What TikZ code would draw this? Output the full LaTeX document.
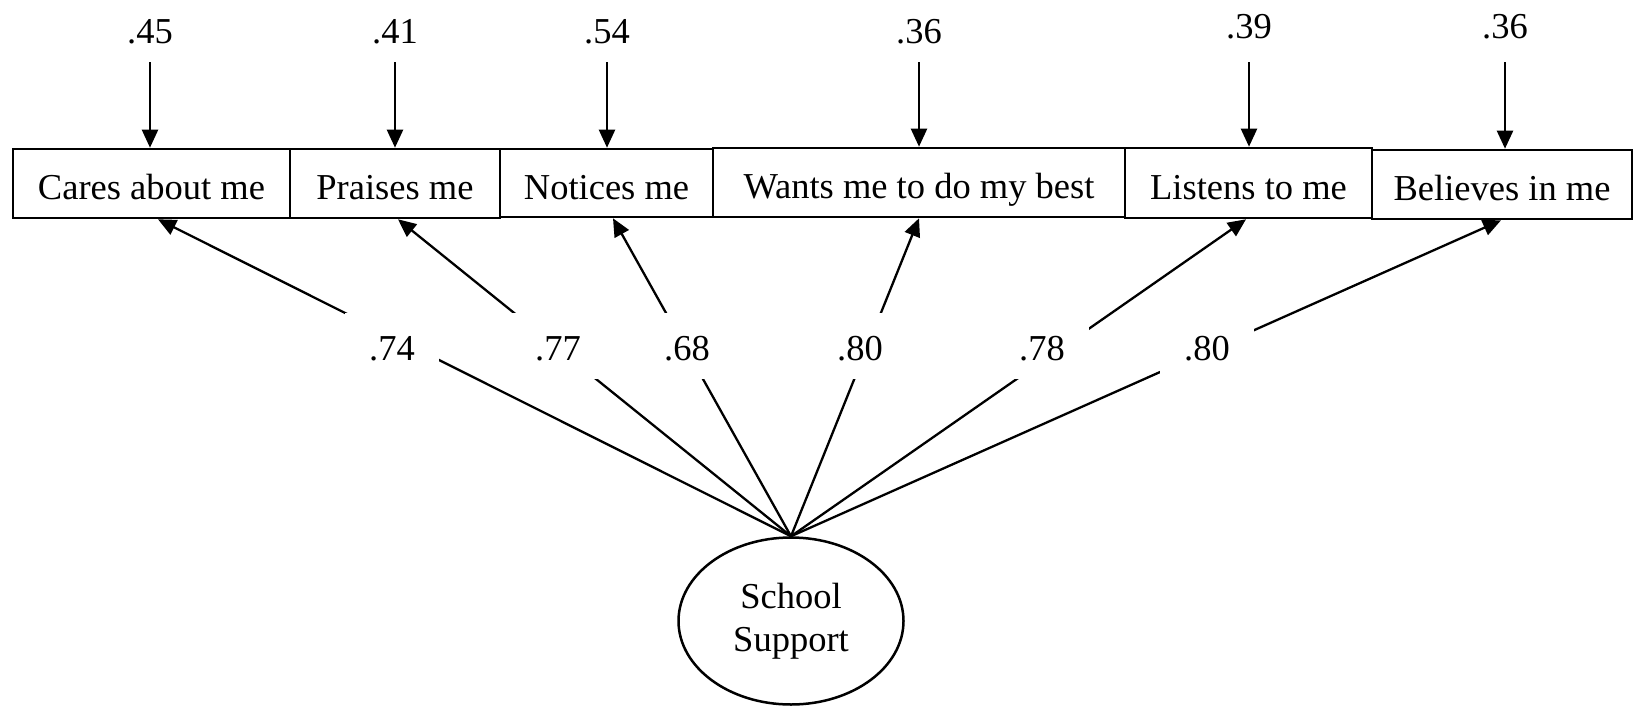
\documentclass[tikz,border=0pt]{standalone}
\usepackage{fontspec}
\setmainfont{Liberation Serif}
\usetikzlibrary{arrows.meta,shapes.geometric}

\begin{document}
\begin{tikzpicture}[x=1pt, y=-1pt,
  every node/.style={font=\fontsize{36.5}{43}\selectfont},
  item/.style={draw, line width=2.6pt, rectangle, inner sep=0pt,
    text height=32pt, text depth=0pt},
  errlabel/.style={anchor=base, inner sep=0pt},
  loading/.style={fill=white, inner sep=0pt, minimum width=94pt,
    minimum height=66pt, text height=28pt, text depth=0pt},
  arr/.style={line width=2.3pt, -{Triangle[length=18pt,width=16pt]}},
  factor/.style={draw, ellipse, line width=2.5pt, inner sep=0pt,
    minimum width=225pt, minimum height=167pt}
]
\useasboundingbox (0,0) rectangle (1633,707);

% observed indicators
\node[item, minimum width=277pt, minimum height=69pt] (c1) at (151.5,183.5) {Cares about me};
\node[item, minimum width=210pt, minimum height=69pt] (c2) at (395,183.5) {Praises me};
\node[item, minimum width=213pt, minimum height=68pt] (c3) at (606.5,183) {Notices me};
\node[item, minimum width=412pt, minimum height=69pt] (c4) at (919,182.5) {Wants me to do my best};
\node[item, minimum width=247pt, minimum height=70pt] (c5) at (1248.5,183) {Listens to me};
\node[item, minimum width=260pt, minimum height=69pt] (c6) at (1502,184.5) {Believes in me};

% error variances
\node[errlabel] (r1) at (150,43) {.45};
\node[errlabel] (r2) at (395,43) {.41};
\node[errlabel] (r3) at (607,43) {.54};
\node[errlabel] (r4) at (919,43) {.36};
\node[errlabel] (r5) at (1249,38) {.39};
\node[errlabel] (r6) at (1505,38) {.36};

\draw[arr] ([yshift=-19pt]r1.base) -- (r1.base |- c1.north);
\draw[arr] ([yshift=-19pt]r2.base) -- (r2.base |- c2.north);
\draw[arr] ([yshift=-19pt]r3.base) -- (r3.base |- c3.north);
\draw[arr] ([yshift=-19pt]r4.base) -- (r4.base |- c4.north);
\draw[arr] ([yshift=-24pt]r5.base) -- (r5.base |- c5.north);
\draw[arr] ([yshift=-24pt]r6.base) -- (r6.base |- c6.north);

% latent factor
\node[factor] (ss) at (791,621)
  {\raisebox{-4pt}{\begin{tabular}{@{}c@{}}School\\Support\end{tabular}}};

% factor loadings
\draw[arr] (ss.north) -- ([xshift=6.5pt]c1.south);
\draw[arr] (ss.north) -- ([xshift=3pt]c2.south);
\draw[arr] (ss.north) -- ([xshift=6.5pt]c3.south);
\draw[arr] (ss.north) -- (c4.south);
\draw[arr] (ss.north) -- ([xshift=-2.5pt]c5.south);
\draw[arr] (ss.north) -- ([xshift=-1pt]c6.south);

\node[loading] (g1) at (392,346) {.74};
\node[loading] (g2) at (558,346) {.77};
\node[loading] (g3) at (687,346) {.68};
\node[loading] (g4) at (860,346) {.80};
\node[loading] (g5) at (1042,346) {.78};
\node[loading] (g6) at (1207,346) {.80};
\end{tikzpicture}
\end{document}
